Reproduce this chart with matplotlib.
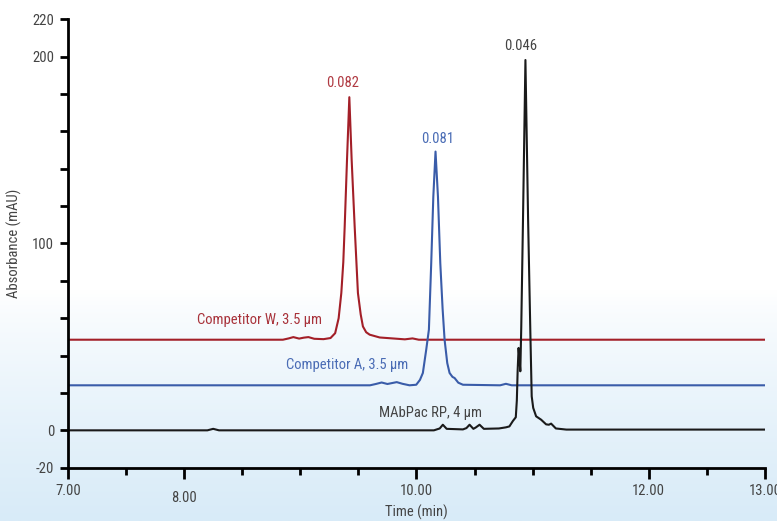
import matplotlib
matplotlib.use("Agg")
import matplotlib.pyplot as plt
import matplotlib.transforms as mtransforms
import numpy as np

plt.rcParams['font.family'] = ['Liberation Sans Narrow', 'Roboto Condensed', 'DejaVu Sans']

# traces (time in min, absorbance in mAU)
w_time = [7.00, 8.85, 8.90, 8.94, 8.99, 9.03, 9.07, 9.12, 9.20, 9.26, 9.30, 9.33,
          9.353, 9.37, 9.382, 9.402, 9.422, 9.442, 9.468, 9.496, 9.52, 9.539, 9.567,
          9.597, 9.683, 9.90, 9.966, 10.02, 13.00]
w_abs = [48.5, 48.5, 49.2, 49.9, 49.1, 49.6, 49.9, 49.0, 48.8, 49.4, 52.0, 60.0,
         73.5, 90.0, 109.0, 144.8, 178.3, 144.8, 109.0, 73.5, 62.0, 55.6, 52.5,
         51.2, 49.7, 48.7, 49.2, 48.5, 48.5]

a_time = [7.00, 9.60, 9.65, 9.70, 9.75, 9.79, 9.83, 9.88, 9.94, 9.998, 10.03, 10.055,
          10.084, 10.107, 10.127, 10.145, 10.164, 10.185, 10.205, 10.225, 10.242,
          10.265, 10.285, 10.31, 10.328, 10.36, 10.40, 10.72, 10.77, 10.82, 13.00]
a_abs = [24.1, 24.1, 24.8, 25.6, 24.8, 25.3, 25.8, 24.9, 24.1, 24.4, 27.0, 30.7,
         43.2, 53.9, 89.5, 125.0, 149.2, 125.0, 89.5, 65.0, 48.5,
         36.0, 30.7, 28.6, 28.0, 25.5, 24.4, 24.1, 24.9, 24.1, 24.1]

m_time = [7.00, 8.20, 8.25, 8.30, 10.15, 10.20, 10.227, 10.26, 10.40, 10.43, 10.457,
          10.49, 10.51, 10.543, 10.58, 10.71, 10.77, 10.80, 10.83, 10.855, 10.864,
          10.871, 10.879, 10.887, 10.894, 10.902, 10.917, 10.938, 10.961, 10.981,
          10.992, 11.005, 11.03, 11.073, 11.116, 11.14, 11.159, 11.20, 11.29, 13.00]
m_abs = [0.0, 0.0, 0.8, 0.0, 0.0, 1.0, 3.0, 0.8, 0.5, 1.2, 3.0,
         0.8, 1.5, 3.0, 0.8, 1.0, 1.6, 2.1, 5.0, 7.0, 16.0,
         32.0, 44.1, 38.0, 31.6, 55.0, 112.7, 198.2, 112.7, 50.3,
         18.2, 12.0, 7.5, 5.7, 3.2, 3.0, 3.6, 1.0, 0.4, 0.4]

peak_labels = ['0.082', '0.081', '0.046']
trace_names = ['Competitor W, 3.5 µm', 'Competitor A, 3.5 µm', 'MAbPac RP, 4 µm']

red = '#a31f28'
blue = '#3a5ca9'
black = '#1a1a1a'

fig = plt.figure(figsize=(7.77, 5.21), dpi=100)

# pale blue wash at the bottom of the page
bg = fig.add_axes([0, 0, 1, 1], zorder=-10)
rows = np.linspace(0, 1, 256)
fade = np.clip((rows - 0.56) / 0.44, 0, 1) ** 0.8
top_c = np.array([1.0, 1.0, 1.0])
bot_c = np.array([216, 235, 248]) / 255.0
grad = top_c[None, :] * (1 - fade[:, None]) + bot_c[None, :] * fade[:, None]
bg.imshow(grad[:, None, :], aspect='auto', extent=[0, 1, 1, 0])
bg.set_axis_off()

ax = fig.add_axes([0.0875, 0.1023, 0.897, 0.8607])
ax.patch.set_alpha(0)

ax.plot(w_time, w_abs, color=red, lw=1.5, solid_joinstyle='round')
ax.plot(a_time, a_abs, color=blue, lw=1.5, solid_joinstyle='round')
ax.plot(m_time, m_abs, color=black, lw=1.5, solid_joinstyle='round')

ax.set_xlim(7, 13)
ax.set_ylim(-20, 220)

txt = '#444444'
fs = 10.5
ax.text(9.36, 182, peak_labels[0], color='#b03a42', fontsize=fs, ha='center', va='bottom')
ax.text(10.18, 152, peak_labels[1], color='#4a6cb5', fontsize=fs, ha='center', va='bottom')
ax.text(10.90, 202, peak_labels[2], color=txt, fontsize=fs, ha='center', va='bottom')

ax.text(8.65, 59, trace_names[0], color='#a8323a', fontsize=fs, ha='center', va='center')
ax.text(9.40, 35, trace_names[1], color='#4a6cb5', fontsize=fs, ha='center', va='center')
ax.text(10.12, 9.5, trace_names[2], color=txt, fontsize=fs, ha='center', va='center')

for s in ['top', 'right']:
    ax.spines[s].set_visible(False)
for s in ['left', 'bottom']:
    ax.spines[s].set_linewidth(2)

ax.set_yticks([-20, 0, 100, 200, 220])
ax.set_yticklabels(['-20', '0', '100', '200', '220'])
ax.set_yticks(np.arange(-20, 221, 20), minor=True)
ax.set_xticks([7, 8, 10, 12, 13])
ax.set_xticklabels(['7.00', '8.00', '10.00', '12.00', '13.00'])
ax.set_xticks(np.arange(7, 13.01, 0.5), minor=True)

ax.tick_params(axis='y', which='both', direction='out', length=6, width=2,
               labelsize=fs, labelcolor=txt, pad=4)
ax.tick_params(axis='x', which='major', direction='out', length=8, width=2,
               labelsize=fs, labelcolor=txt, pad=4)
ax.tick_params(axis='x', which='minor', direction='out', length=5, width=2)

# the 8.00 label sits lower than the others
lab8 = ax.get_xticklabels()[1]
lab8.set_transform(lab8.get_transform() + mtransforms.ScaledTranslation(0, -5 / 72, fig.dpi_scale_trans))

ax.set_xlabel('Time (min)', fontsize=fs, color=txt)
ax.xaxis.set_label_coords(0.5, -0.082)
ax.set_ylabel('Absorbance (mAU)', fontsize=fs, color=txt)
ax.yaxis.set_label_coords(-0.066, 0.5)

fig.savefig('out.png', dpi=100)
